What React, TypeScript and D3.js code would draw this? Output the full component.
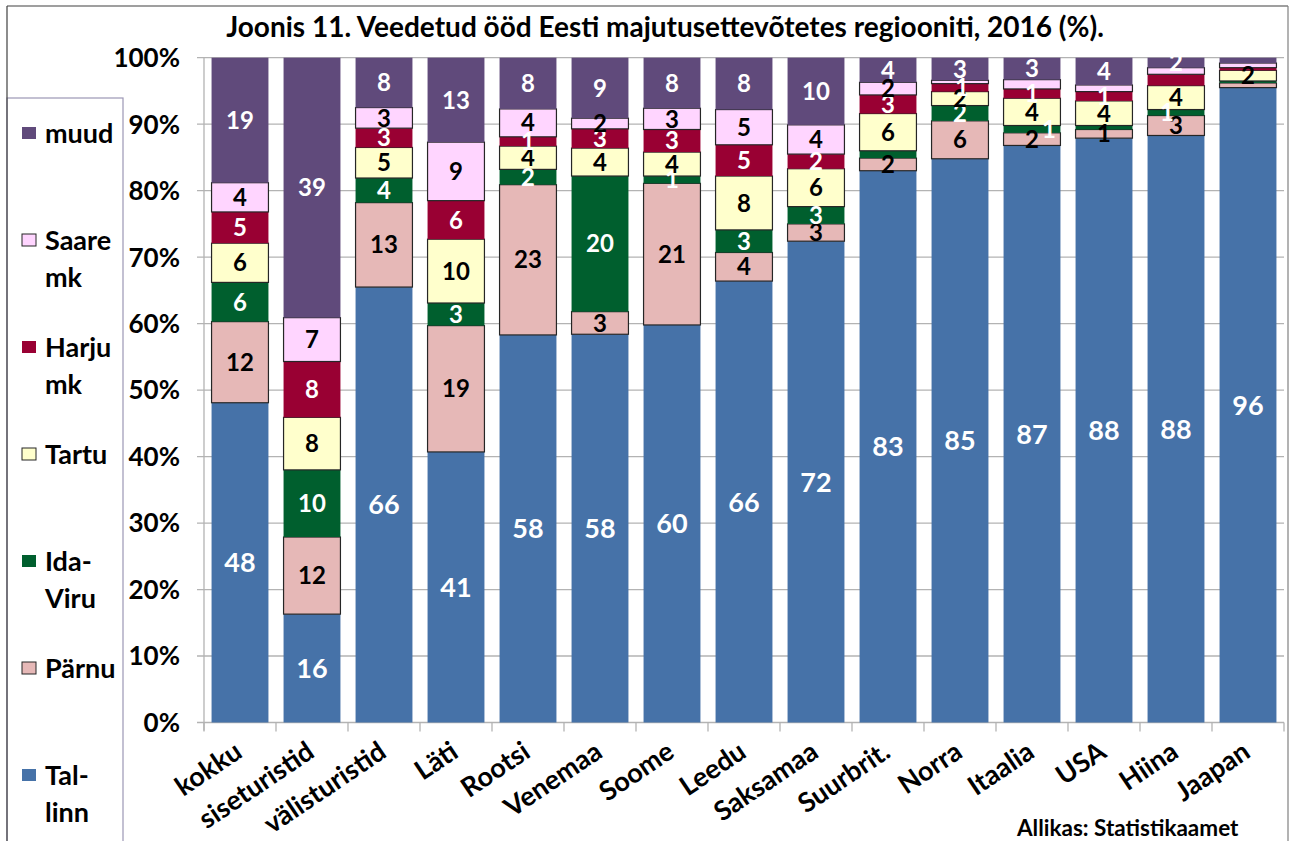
import React from 'react';
import * as d3 from 'd3';

const categories = ['kokku', 'siseturistid', 'välisturistid', 'Läti', 'Rootsi', 'Venemaa', 'Soome', 'Leedu', 'Saksamaa', 'Suurbrit.', 'Norra', 'Itaalia', 'USA', 'Hiina', 'Jaapan'];

const seriesKeys = ['Tallinn', 'Pärnu', 'Ida-Viru', 'Tartu', 'Harju mk', 'Saare mk', 'muud'];

const tallinn = [48.1, 16.3, 65.5, 40.7, 58.3, 58.4, 59.8, 66.4, 72.4, 83.0, 84.8, 86.8, 87.9, 88.3, 95.5];
const parnu = [12.2, 11.6, 12.7, 19.0, 22.6, 3.4, 21.3, 4.3, 2.6, 1.9, 5.7, 1.9, 1.3, 3.0, 0.7];
const idaViru = [5.9, 10.1, 3.7, 3.4, 2.3, 20.4, 1.1, 3.4, 2.6, 1.1, 2.3, 1.1, 0.6, 0.9, 0.3];
const tartu = [5.9, 7.9, 4.6, 9.6, 3.5, 4.2, 3.6, 8.1, 5.7, 5.6, 2.1, 4.1, 3.7, 3.6, 1.6];
const harju = [4.7, 8.4, 2.9, 5.8, 1.4, 2.9, 3.4, 4.7, 2.2, 2.8, 1.2, 1.4, 1.4, 1.7, 0.4];
const saare = [4.4, 6.6, 3.1, 8.8, 4.2, 1.6, 3.2, 5.3, 4.4, 1.9, 0.5, 1.4, 1.0, 1.0, 0.7];
const muud = [18.8, 39.1, 7.5, 12.7, 7.7, 9.1, 7.6, 7.8, 10.1, 3.7, 3.4, 3.3, 4.1, 1.5, 0.8];

const yTicks = [0, 10, 20, 30, 40, 50, 60, 70, 80, 90, 100];

// labels that are not shown in the original
const hiddenLabels = ['Suurbrit.|Ida-Viru', 'Itaalia|Saare mk', 'USA|Saare mk', 'Hiina|Harju mk', 'Hiina|Saare mk'];
// labels that were moved sideways in the original (px)
const labelShift: Record<string, number> = { 'Itaalia|Ida-Viru': 17, 'Hiina|Ida-Viru': -9, 'Norra|Harju mk': 2 };

const legendItems = [
  { key: 'muud', lines: ['muud'] },
  { key: 'Saare mk', lines: ['Saare', 'mk'] },
  { key: 'Harju mk', lines: ['Harju', 'mk'] },
  { key: 'Tartu', lines: ['Tartu'] },
  { key: 'Ida-Viru', lines: ['Ida-', 'Viru'] },
  { key: 'Pärnu', lines: ['Pärnu'] },
  { key: 'Tallinn', lines: ['Tal-', 'linn'] },
];

const colors: Record<string, string> = {
  'Tallinn': '#4672A8',
  'Pärnu': '#E6B8B7',
  'Ida-Viru': '#005F2E',
  'Tartu': '#FFFFCC',
  'Harju mk': '#990033',
  'Saare mk': '#FFD5FF',
  'muud': '#604A7B',
};
const labelColors: Record<string, string> = {
  'Tallinn': '#FFFFFF', 'Pärnu': '#000000', 'Ida-Viru': '#FFFFFF', 'Tartu': '#000000',
  'Harju mk': '#FFFFFF', 'Saare mk': '#000000', 'muud': '#FFFFFF',
};
const outlined: Record<string, boolean> = { 'Pärnu': true, 'Tartu': true, 'Saare mk': true };

const FONT = 'Lato, Calibri, Carlito, sans-serif';

export default function App() {
  const W = 1293, H = 841;
  const x0 = 204, x1 = 1284, yTop = 57.7, yBot = 722.5;

  const rows = categories.map((c, i) => ({
    cat: c,
    'Tallinn': tallinn[i], 'Pärnu': parnu[i], 'Ida-Viru': idaViru[i], 'Tartu': tartu[i],
    'Harju mk': harju[i], 'Saare mk': saare[i], 'muud': muud[i],
  }));

  const x = d3.scaleBand<string>().domain(categories).range([x0, x1]).paddingInner(0.21).paddingOuter(0.105);
  const y = d3.scaleLinear().domain([0, 100]).range([yBot, yTop]);
  const stack = d3.stack<any>().keys(seriesKeys);
  const layers = stack(rows as any);
  const bw = x.bandwidth();

  return (
    <svg width={W} height={H} style={{ position: 'absolute', left: 0, top: 0, background: '#fff' }} fontFamily={FONT}>
      <rect x={0} y={0} width={W} height={H} fill="#fff" />
      {/* outer frame */}
      <line x1={7} y1={6} x2={1288} y2={6} stroke="#404040" strokeWidth={1.2} />
      <line x1={1288} y1={6} x2={1288} y2={H} stroke="#808080" strokeWidth={1.2} />

      {/* title */}
      <text x={665} y={37} textAnchor="middle" fontSize={28} fontWeight={700} fill="#000">
        Joonis 11. Veedetud ööd Eesti majutusettevõtetes regiooniti, 2016 (%).
      </text>

      {/* gridlines */}
      {yTicks.map(t => (
        <g key={t}>
          <line x1={x0 - 7} x2={x1} y1={y(t)} y2={y(t)} stroke="#B3B3B3" strokeWidth={1.3} />
          <text x={180} y={y(t)} dy="0.36em" textAnchor="end" fontSize={26} fontWeight={700} fill="#000">{t}%</text>
        </g>
      ))}
      <line x1={x0} x2={x0} y1={yTop} y2={yBot + 8} stroke="#B3B3B3" strokeWidth={1.3} />
      {/* x ticks */}
      {d3.range(categories.length + 1).map(i => (
        <line key={i} x1={x0 + i * x.step()} x2={x0 + i * x.step()} y1={yBot} y2={yBot + 9} stroke="#B3B3B3" strokeWidth={1.3} />
      ))}

      {/* bars */}
      {layers.map(layer => (
        <g key={layer.key}>
          {layer.map((d, i) => {
            const cat = categories[i];
            const yt = y(d[1]);
            const yb = y(d[0]);
            return (
              <rect key={cat} x={x(cat)} y={yt} width={bw} height={Math.max(0, yb - yt)}
                fill={colors[layer.key]}
                stroke={outlined[layer.key] ? '#262626' : 'none'} strokeWidth={outlined[layer.key] ? 1.2 : 0} />
            );
          })}
        </g>
      ))}

      {/* labels */}
      {layers.map(layer => (
        <g key={'l' + layer.key}>
          {layer.map((d, i) => {
            const cat = categories[i];
            const v = d[1] - d[0];
            const id = cat + '|' + layer.key;
            if (v < 0.85 || hiddenLabels.includes(id)) return null;
            const cy = (y(d[0]) + y(d[1])) / 2;
            const big = layer.key === 'Tallinn';
            return (
              <text key={cat} x={(x(cat) as number) + bw / 2 + (labelShift[id] || 0)} y={cy} dy="0.36em" textAnchor="middle"
                fontSize={big ? 27 : 24} fontWeight={700} fill={labelColors[layer.key]}>
                {Math.round(v)}
              </text>
            );
          })}
        </g>
      ))}

      {/* x labels */}
      {categories.map(c => (
        <text key={c} transform={`translate(${(x(c) as number) + bw / 2 + 4},756) rotate(-34)`}
          textAnchor="end" fontSize={27} fontWeight={700} fill="#000">{c}</text>
      ))}

      {/* legend */}
      <rect x={7} y={98} width={116} height={H} fill="#fff" stroke="#9C97B5" strokeWidth={1.2} />
      <line x1={7} y1={6} x2={7} y2={H} stroke="#404040" strokeWidth={1.2} />
      {legendItems.map((it, k) => {
        const ly = 133 + k * 107;
        return (
          <g key={it.key}>
            <rect x={22} y={ly - 6} width={14} height={12} fill={colors[it.key]}
              stroke={outlined[it.key] ? '#262626' : 'none'} strokeWidth={1} />
            {it.lines.map((ln, j) => (
              <text key={j} x={45} y={ly + j * 37} dy="0.36em" fontSize={27} fontWeight={700} fill="#000">{ln}</text>
            ))}
          </g>
        );
      })}

      {/* source */}
      <text x={1017} y={836} fontSize={22.5} fontWeight={700} fill="#000">Allikas: Statistikaamet</text>
    </svg>
  );
}
